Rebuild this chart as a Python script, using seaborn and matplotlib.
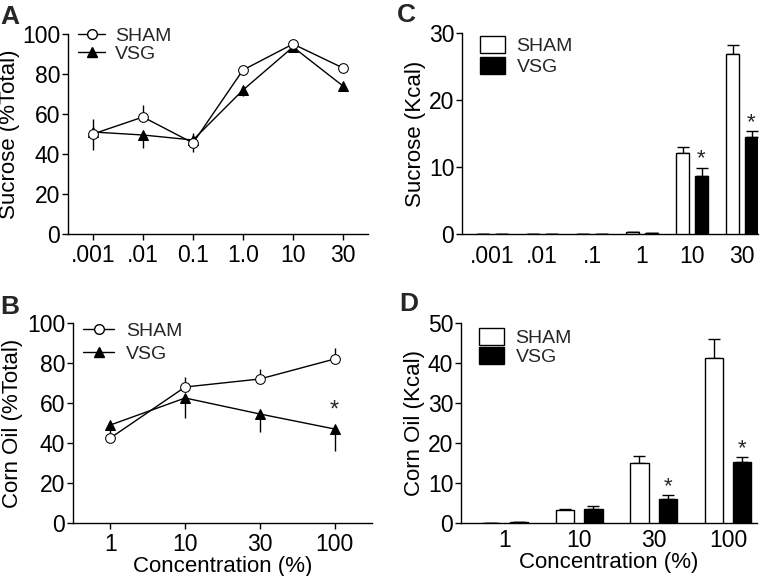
import numpy as np
import pandas as pd
import matplotlib
matplotlib.use('Agg')
import matplotlib.pyplot as plt
import seaborn as sns
from matplotlib.lines import Line2D
from matplotlib.patches import Patch

sns.set_theme(style='ticks')
plt.rcParams['font.family'] = ['Liberation Sans', 'DejaVu Sans']
plt.rcParams['axes.linewidth'] = 1.0
plt.rcParams['xtick.major.width'] = 1.0
plt.rcParams['ytick.major.width'] = 1.0
plt.rcParams['xtick.major.size'] = 4
plt.rcParams['ytick.major.size'] = 4
plt.rcParams['ytick.major.pad'] = 1.5

# ---- data ----
groups = ['SHAM', 'VSG']

# panel A: sucrose preference (%Total)
suc_conc = ['.001', '.01', '0.1', '1.0', '10', '30']
suc_pct_sham = [50, 58.5, 45.5, 82, 95, 83]
suc_pct_vsg = [51, 49.5, 47, 72, 93.5, 74]
suc_pct_sham_lo = [8, 0, 4.5, 0, 0, 0]
suc_pct_sham_hi = [0, 6, 0, 1.5, 0, 0]
suc_pct_vsg_lo = [0, 6.5, 0, 3, 0, 0]
suc_pct_vsg_hi = [6.5, 0, 3.5, 0, 0, 0]

# panel B: corn oil preference (%Total)
oil_conc = ['1', '10', '30', '100']
oil_pct_sham = [42.5, 68, 72, 82]
oil_pct_vsg = [49, 62.5, 54.5, 47]
oil_pct_sham_lo = [0, 0, 0, 0]
oil_pct_sham_hi = [0, 5, 5, 5.5]
oil_pct_vsg_lo = [4, 10, 9, 11]
oil_pct_vsg_hi = [0, 0, 0, 0]

# panel C: sucrose kcal
suc_kcal_conc = ['.001', '.01', '.1', '1', '10', '30']
suc_kcal_sham = [0, 0, 0, 0.35, 12.1, 26.9]
suc_kcal_vsg = [0, 0, 0, 0.2, 8.6, 14.5]
suc_kcal_sham_err = [0, 0, 0, 0, 0.9, 1.3]
suc_kcal_vsg_err = [0, 0, 0, 0, 1.3, 0.8]

# panel D: corn oil kcal
oil_kcal_sham = [0.1, 3.2, 15.0, 41.3]
oil_kcal_vsg = [0.2, 3.6, 6.1, 15.3]
oil_kcal_sham_err = [0, 0.2, 1.7, 4.7]
oil_kcal_vsg_err = [0, 0.7, 0.8, 1.1]

W, H = 769, 576
fig = plt.figure(figsize=(W / 100, H / 100), dpi=100)


def px_axes(l, t, r, b):
    return fig.add_axes([l / W, 1 - b / H, (r - l) / W, (b - t) / H])


axA = px_axes(68, 34, 368, 234)
axB = px_axes(73, 323, 372, 523)
axC = px_axes(462, 33, 758, 234)
axD = px_axes(461, 323, 757, 523)

TICK_FS = 16.5
LAB_FS = 16
LEG_FS = 14


def line_panel(ax, cats, sham, vsg, s_lo, s_hi, v_lo, v_hi):
    df = pd.DataFrame({
        'conc': cats * 2,
        'val': sham + vsg,
        'group': ['SHAM'] * len(cats) + ['VSG'] * len(cats),
    })
    x = np.arange(len(cats))
    ax.errorbar(x, sham, yerr=[s_lo, s_hi], fmt='none', ecolor='black', elinewidth=1.0, capsize=0, zorder=2)
    ax.errorbar(x, vsg, yerr=[v_lo, v_hi], fmt='none', ecolor='black', elinewidth=1.0, capsize=0, zorder=2)
    sns.pointplot(data=df, x='conc', y='val', hue='group', order=cats, hue_order=groups,
                  palette=['black', 'black'], markers=['o', '^'], linestyles=['-', '-'],
                  linewidth=1.0, markersize=7, legend=False, ax=ax, errorbar=None)
    for ln in ax.lines:
        if ln.get_marker() == 'o':
            ln.set_markerfacecolor('white')
            ln.set_markeredgecolor('black')
            ln.set_zorder(4)
        elif ln.get_marker() == '^':
            ln.set_markersize(7.5)
            ln.set_zorder(3)
    ax.set_xlim(-0.5, len(cats) - 0.5)
    ax.set_ylim(0, 100)
    ax.set_yticks([0, 20, 40, 60, 80, 100])
    ax.set_xlabel('')
    handles = [Line2D([], [], color='black', lw=1.0, marker='o', mfc='white', mec='black', ms=7),
               Line2D([], [], color='black', lw=1.0, marker='^', mfc='black', mec='black', ms=7.5)]
    return handles


def bar_panel(ax, cats, sham, vsg, s_err, v_err):
    df = pd.DataFrame({
        'conc': cats * 2,
        'val': sham + vsg,
        'group': ['SHAM'] * len(cats) + ['VSG'] * len(cats),
    })
    sns.barplot(data=df, x='conc', y='val', hue='group', order=cats, hue_order=groups,
                palette=['white', 'black'], width=0.76, gap=0.35, edgecolor='black',
                linewidth=1.0, errorbar=None, legend=False, ax=ax, zorder=3)
    n = len(cats)
    bars = ax.patches[:2 * n]
    xs = [b.get_x() + b.get_width() / 2 for b in bars]
    ax.errorbar(xs[:n], sham, yerr=[np.zeros(n), s_err], fmt='none', ecolor='black',
                elinewidth=1.0, capsize=4, capthick=1.0, zorder=2)
    ax.errorbar(xs[n:], vsg, yerr=[np.zeros(n), v_err], fmt='none', ecolor='black',
                elinewidth=1.0, capsize=4, capthick=1.0, zorder=2)
    ax.set_xlabel('')
    ax.tick_params(axis='x', length=0, pad=8)
    handles = [Patch(facecolor='white', edgecolor='black', lw=1.0),
               Patch(facecolor='black', edgecolor='black', lw=1.0)]
    return handles, xs


# A
h = line_panel(axA, suc_conc, suc_pct_sham, suc_pct_vsg, suc_pct_sham_lo, suc_pct_sham_hi,
               suc_pct_vsg_lo, suc_pct_vsg_hi)
axA.set_ylabel('Sucrose (%Total)', fontsize=LAB_FS)
axA.yaxis.set_label_coords(-0.16, 0.5)
axA.legend(h, groups, loc='upper left', bbox_to_anchor=(-0.005, 1.09), frameon=False, fontsize=LEG_FS,
           handlelength=1.4, handletextpad=0.5, labelspacing=0.0, borderaxespad=0.2)

# B
h = line_panel(axB, oil_conc, oil_pct_sham, oil_pct_vsg, oil_pct_sham_lo, oil_pct_sham_hi,
               oil_pct_vsg_lo, oil_pct_vsg_hi)
axB.set_ylabel('Corn Oil (%Total)', fontsize=LAB_FS)
axB.yaxis.set_label_coords(-0.167, 0.5)
axB.set_xlabel('Concentration (%)', fontsize=LAB_FS, labelpad=0)
axB.legend(h, groups, loc='upper left', bbox_to_anchor=(-0.005, 1.06), frameon=False, fontsize=LEG_FS,
           handlelength=1.6, handletextpad=0.6, labelspacing=0.25, borderaxespad=0.2)
axB.text(3, 56, '*', ha='center', va='center', fontsize=17)

# C
h, xs = bar_panel(axC, suc_kcal_conc, suc_kcal_sham, suc_kcal_vsg, suc_kcal_sham_err, suc_kcal_vsg_err)
axC.set_xlim(-0.6, 5.32)
axC.set_ylim(0, 30)
axC.set_yticks([0, 10, 20, 30])
axC.set_ylabel('Sucrose (Kcal)', fontsize=LAB_FS)
axC.yaxis.set_label_coords(-0.122, 0.5)
axC.legend(h, groups, loc='upper left', bbox_to_anchor=(0.02, 1.045), frameon=False, fontsize=LEG_FS,
           handlelength=1.3, handleheight=1.0, handletextpad=0.6, labelspacing=0.1, borderaxespad=0.2)
n = len(suc_kcal_conc)
for i in [4, 5]:
    axC.text(xs[n + i], suc_kcal_vsg[i] + suc_kcal_vsg_err[i] + 1.3, '*', ha='center', va='center', fontsize=16)

# D
h, xs = bar_panel(axD, oil_conc, oil_kcal_sham, oil_kcal_vsg, oil_kcal_sham_err, oil_kcal_vsg_err)
axD.set_xlim(-0.59, 3.39)
axD.set_ylim(0, 50)
axD.set_yticks([0, 10, 20, 30, 40, 50])
axD.set_ylabel('Corn Oil (Kcal)', fontsize=LAB_FS)
axD.yaxis.set_label_coords(-0.122, 0.5)
axD.set_xlabel('Concentration (%)', fontsize=LAB_FS, labelpad=0)
axD.tick_params(axis='x', pad=4)
axD.legend(h, groups, loc='upper left', bbox_to_anchor=(0.02, 1.035), frameon=False, fontsize=LEG_FS,
           handlelength=1.3, handleheight=1.0, handletextpad=0.6, labelspacing=0.0, borderaxespad=0.2)
n = len(oil_conc)
for i in [2, 3]:
    axD.text(xs[n + i], oil_kcal_vsg[i] + oil_kcal_vsg_err[i] + 2.2, '*', ha='center', va='center', fontsize=16)

for ax in [axA, axB, axC, axD]:
    sns.despine(ax=ax)
    ax.tick_params(axis='both', labelsize=TICK_FS, colors='black')
    ax.yaxis.label.set_color('black')
    ax.xaxis.label.set_color('black')
    for sp in ax.spines.values():
        sp.set_color('black')

# panel letters, placed in pixels from top-left
for letter, lx, ly in [('A', 0, 5), ('B', 0, 295), ('C', 397, 3), ('D', 399, 292)]:
    fig.text(lx / W, 1 - ly / H, letter, fontsize=19, fontweight='bold', ha='left', va='top')

fig.savefig('out.png', dpi=100, facecolor='white')
